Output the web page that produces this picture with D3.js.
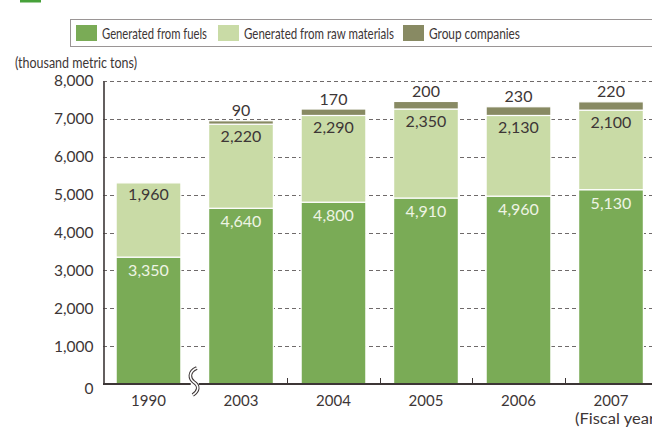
<!DOCTYPE html>
<html>
<head>
<meta charset="utf-8">
<script src="https://cdn.jsdelivr.net/npm/d3@7"></script>
<style>
  html, body { margin: 0; padding: 0; background: #fff; }
  svg { display: block; font-family: "Lato", "Open Sans", sans-serif; }
</style>
</head>
<body>
<svg id="chart" width="652" height="427"></svg>
<script>
// Waste generated, thousand metric tons, by fiscal year
const years = ["1990", "2003", "2004", "2005", "2006", "2007"];
const fromFuels = [3350, 4640, 4800, 4910, 4960, 5130];
const fromRawMaterials = [1960, 2220, 2290, 2350, 2130, 2100];
const groupCompanies = [0, 90, 170, 200, 230, 220];
const yTicks = [0, 1000, 2000, 3000, 4000, 5000, 6000, 7000, 8000];
const seriesNames = ["Generated from fuels", "Generated from raw materials", "Group companies"];
const seriesColors = ["#7aab56", "#c9dba6", "#888a63"];

const svg = d3.select("#chart");
const textColor = "#3d3636";

const x = d3.scaleBand().domain(years).range([102.25, 657.25])
  .paddingInner(0.3).paddingOuter(0.15);
const y = d3.scaleLinear().domain([0, 8000]).range([384, 81]);

// heading marker
svg.append("rect").attr("x", 20).attr("y", -6).attr("width", 21).attr("height", 8.5).attr("fill", "#47a13a");

// gridlines
svg.append("g").selectAll("line").data(yTicks.filter(d => d > 0)).join("line")
  .attr("x1", 103).attr("x2", 652)
  .attr("y1", d => Math.round(y(d)) + 0.5).attr("y2", d => Math.round(y(d)) + 0.5)
  .attr("stroke", "#6f6a6a").attr("stroke-width", 1).attr("stroke-dasharray", "4,3");

// stacked bars
const rows = years.map((yr, i) => ({ yr, vals: [fromFuels[i], fromRawMaterials[i], groupCompanies[i]] }));
const barG = svg.append("g");
rows.forEach(r => {
  let base = 0;
  r.vals.forEach((v, k) => {
    if (v <= 0) return;
    const y0 = y(base), y1 = y(base + v);
    barG.append("rect")
      .attr("x", x(r.yr)).attr("width", x.bandwidth())
      .attr("y", y1).attr("height", y0 - y1)
      .attr("fill", seriesColors[k])
      .attr("stroke", "#fff").attr("stroke-width", 1.2);
    base += v;
  });
  r.total = base;
});

// value labels
const fmt = d3.format(",");
const labG = svg.append("g").attr("font-size", 16).attr("text-anchor", "middle");
rows.forEach(r => {
  const cx = x(r.yr) + x.bandwidth() / 2;
  labG.append("text").attr("x", cx).attr("y", y(r.vals[0]) + 19)
    .attr("fill", "#eef4e4").text(fmt(r.vals[0]));
  labG.append("text").attr("x", cx).attr("y", y(r.vals[0] + r.vals[1]) + 17.5)
    .attr("fill", textColor).text(fmt(r.vals[1]));
  if (r.vals[2] > 0) {
    labG.append("text").attr("x", cx).attr("y", y(r.total) - 4.5)
      .attr("fill", textColor).text(fmt(r.vals[2]));
  }
});

// y axis
const yAxis = d3.axisLeft(y).tickValues(yTicks).tickFormat(fmt).tickSize(0).tickPadding(10);
const yg = svg.append("g").attr("transform", "translate(103.5,0)").call(yAxis);
yg.select(".domain").attr("stroke", textColor).attr("stroke-width", 1.6);
yg.selectAll("text").attr("font-size", 15.5).attr("fill", textColor).attr("font-family", "Lato, sans-serif");
// the zero label sits a little below the baseline
yg.selectAll(".tick").filter(d => d === 0).select("text").attr("dy", "0.6em");

// x axis baseline with break
const breakX = (x("1990") + x.bandwidth() + x("2003")) / 2;
svg.append("line").attr("x1", 103).attr("x2", 652).attr("y1", 384).attr("y2", 384)
  .attr("stroke", textColor).attr("stroke-width", 2.2);
svg.append("rect").attr("x", breakX - 4).attr("y", 380).attr("width", 8).attr("height", 8).attr("fill", "#fff");
const sPath = `M${breakX + 2},368 C${breakX - 7},372 ${breakX - 5},379 ${breakX - 1},382 C${breakX + 5},386 ${breakX + 4},391 ${breakX - 2},395`;
svg.append("path").attr("d", sPath).attr("fill", "none").attr("stroke", textColor).attr("stroke-width", 3.6);
svg.append("path").attr("d", sPath).attr("fill", "none").attr("stroke", "#fff").attr("stroke-width", 1.6);

// small ticks between later bars
const tickXs = years.slice(1, -1).map(yr => x(yr) + x.bandwidth() + x.step() * x.paddingInner() / 2);
svg.append("g").selectAll("line").data(tickXs).join("line")
  .attr("x1", d => Math.round(d) + 0.5).attr("x2", d => Math.round(d) + 0.5)
  .attr("y1", 378).attr("y2", 384).attr("stroke", textColor).attr("stroke-width", 1);

// x labels
svg.append("g").selectAll("text").data(years).join("text")
  .attr("x", d => x(d) + x.bandwidth() / 2).attr("y", 406)
  .attr("text-anchor", "middle").attr("font-size", 15).attr("fill", textColor).text(d => d);
svg.append("text").attr("x", 575).attr("y", 424).attr("font-size", 14.5).attr("fill", textColor)
  .attr("textLength", 84).attr("lengthAdjust", "spacingAndGlyphs").text("(Fiscal year)");

// unit label
svg.append("text").attr("x", 15).attr("y", 68).attr("font-size", 14.5).attr("fill", textColor)
  .attr("textLength", 122).attr("lengthAdjust", "spacingAndGlyphs").text("(thousand metric tons)");

// legend
svg.append("rect").attr("x", 70.5).attr("y", 19.5).attr("width", 600).attr("height", 27)
  .attr("fill", "#fff").attr("stroke", "#9a9595").attr("stroke-width", 1);
const legX = [76, 218, 403];
const legW = [105, 150, 91];
const leg = svg.append("g").selectAll("g").data(seriesNames).join("g")
  .attr("transform", (d, i) => `translate(${legX[i]},25)`);
leg.append("rect").attr("width", 21).attr("height", 16).attr("fill", (d, i) => seriesColors[i]);
leg.append("text").attr("x", 26).attr("y", 13.5).attr("font-size", 15).attr("fill", textColor)
  .attr("textLength", (d, i) => legW[i]).attr("lengthAdjust", "spacingAndGlyphs").text(d => d);
</script>
</body>
</html>
